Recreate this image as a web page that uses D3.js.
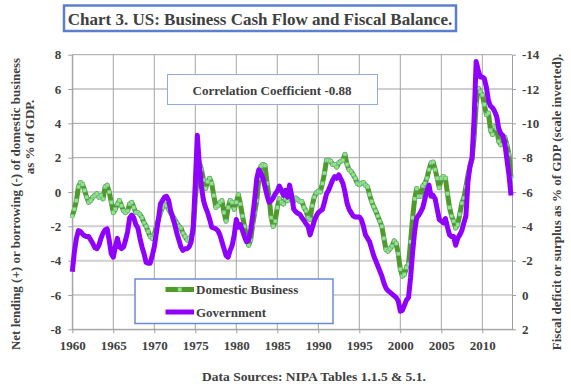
<!DOCTYPE html>
<html>
<head>
<meta charset="utf-8">
<script src="https://cdn.jsdelivr.net/npm/d3@7"></script>
<style>
  body { margin: 0; background: #fff; }
  svg text { font-family: "Liberation Serif" !important; font-weight: bold; fill: #404040; }
</style>
</head>
<body>
<svg id="chart" width="571" height="388"></svg>
<script>
// quarterly series, 1960Q1 .. 2013Q3
const startYear = 1960;

// net lending (+) / borrowing (-) of domestic business, % of GDP (left axis)
const business = [
  -1.4, -1.0, -0.5, 0.3,    0.55, 0.45, 0.1, -0.3,    -0.6, -0.5, -0.3, -0.2,   -0.1, -0.3, -0.2, -0.4,
  0.3, 0.4, 0.0, -0.6,      -1.2, -1.0, -0.7, -0.5,   -0.8, -1.1, -1.2, -1.1,   -0.7, -0.6, -0.9, -1.2,
  -1.2, -1.3, -1.5, -1.8,   -2.0, -2.3, -2.6, -2.7,   -2.5, -2.0, -1.6, -1.2,   -0.9, -0.7, -0.8, -1.0,
  -1.2, -1.4, -1.6, -1.8,   -2.0, -2.1, -2.4, -2.6,   -2.8, -2.7, -2.6, -2.3,   -0.4, 0.9, 1.7, 1.3,
  0.7, 0.2, 0.6, 0.8,       0.5, -0.2, -0.9, -0.8,    -0.6, -0.5, -1.2, -1.7,   -0.9, -0.5, -0.6, -1.0,
  -0.6, -0.15, -0.7, -1.4,  -2.0, -2.6, -3.1, -2.8,   -1.9, -1.2, -0.5, 0.8,    1.5, 1.6, 1.55, 0.5,
  -0.3, -1.5, -2.0, -1.7,   -0.9, -0.4, -0.6, -0.7,   -0.4, -0.5, 0.0, -0.3,    -0.55, -0.35, -0.45, -0.55,
  -0.55, -0.9, -1.1, -1.5,  -1.6, -0.8, -0.3, -0.05,  0.05, 0.0, 0.5, 1.1,      1.85, 1.85, 1.8, 1.6,
  1.6, 1.45, 1.7, 1.8,      1.85, 2.2, 1.6, 1.3,      1.2, 1.0, 0.8, 0.5,       0.42, 0.5, 0.55, 0.4,
  0.3, -0.15, -0.55, -0.85, -1.1, -1.4, -1.7, -2.0,   -2.7, -3.35, -3.45, -3.3, -3.15, -2.85, -3.0, -3.6,
  -4.5, -4.9, -4.8, -4.4,   -4.2, -2.9, -1.5, -0.4,   0.2, -0.25, -0.25, 0.35,  0.5, 0.8, 1.3, 1.7,
  1.75, 1.3, 0.8, 0.25,     0.8, 0.9, 0.8, -0.1,      -0.9, -1.4, -1.7, -2.1,   -1.9, -1.3, -0.65, -0.35,
  0.3, 1.0, 1.5, 1.9,       3.2, 5.1, 6.05, 5.85,     5.65, 5.1, 4.5, 4.6,      3.6, 3.35, 3.8, 3.7,
  2.95, 2.75, 3.2, 3.2,     2.75, 2.2, 0.8
];

// government deficit (-) or surplus (+), % of GDP (right axis, inverted)
const government = [
  -1.35, -2.5, -3.3, -3.75, -3.7, -3.55, -3.45, -3.4, -3.4, -3.2, -3.0, -2.75,  -2.7, -2.9, -3.3, -3.6,
  -3.8, -3.85, -3.2, -2.4,  -2.2, -2.8, -3.3, -2.8,   -2.7, -2.8, -3.2, -3.7,   -4.5, -4.65, -4.5, -4.1,
  -3.9, -3.3, -2.8, -2.4,   -1.9, -1.85, -1.85, -2.3, -2.8, -3.6, -4.4, -5.3,   -5.5, -5.7, -5.75, -5.5,
  -4.9, -4.5, -4.1, -3.6,   -3.2, -2.8, -2.6, -2.7,   -2.7, -2.8, -3.1, -4.0,   -6.5, -9.3, -7.5, -6.3,
  -5.5, -5.1, -4.8, -4.4,   -3.95, -3.9, -3.85, -3.75, -3.5, -3.1, -2.7, -2.3,  -2.2, -2.6, -2.9, -3.5,
  -4.4, -3.95, -4.1, -3.75, -3.4, -3.1, -3.2, -3.75,  -4.6, -5.6, -6.8, -7.3,   -7.1, -6.8, -6.3, -5.8,
  -5.4, -5.5, -5.65, -5.9,  -6.05, -6.35, -6.1, -5.8, -6.1, -5.7, -6.4, -5.8,   -5.0, -4.85, -4.75, -4.7,
  -4.5, -4.35, -4.15, -4.0, -3.5, -3.9, -4.3, -4.6,   -4.8, -4.9, -4.98, -5.4,  -5.9, -6.1, -6.4, -6.7,
  -6.9, -6.8, -7.0, -6.75,  -6.5, -6.0, -5.35, -5.0,  -4.8, -4.6, -4.55, -4.55, -4.55, -4.4, -4.0, -3.5,
  -3.3, -3.1, -2.7, -2.3,   -2.0, -1.7, -1.4, -1.1,   -0.7, -0.4, -0.25, -0.15, -0.05, 0.05, 0.15, 0.35,
  0.95, 0.9, 0.6, 0.3,      0.15, -1.0, -2.5, -3.7,   -4.5, -4.65, -4.85, -5.1, -5.6, -6.1, -6.4, -5.75,
  -5.8, -5.6, -5.0, -4.4,   -4.3, -4.2, -4.45, -3.95, -3.5, -3.4, -3.4, -2.9,   -3.3, -3.5, -3.75, -4.2,
  -4.6, -6.6, -7.5, -8.0,   -10.3, -13.6, -13.1, -12.7, -12.7, -12.6, -12.1, -11.3, -11.0, -10.9, -10.7, -10.4,
  -9.7, -9.4, -9.3, -8.8,   -7.9, -7.0, -5.8
];

const yearTicks = [1960, 1965, 1970, 1975, 1980, 1985, 1990, 1995, 2000, 2005, 2010];
const leftTicks = [8, 6, 4, 2, 0, -2, -4, -6, -8];
const rightTicks = [-14, -12, -10, -8, -6, -4, -2, 0, 2];
const seriesNames = ['Domestic Business', 'Government'];

const FONT = '"Liberation Serif", serif';
const svg = d3.select('#chart');

const plot = { left: 72.3, right: 512, top: 54.7, bottom: 329.3 };

const x = d3.scaleLinear().domain([1960, 2013.62]).range([plot.left, plot.right]);
const yLeft = d3.scaleLinear().domain([-8, 8]).range([plot.bottom, plot.top]);
const yRight = d3.scaleLinear().domain([2, -14]).range([plot.bottom, plot.top]);

const quarter = i => startYear + i / 4;

// grid
const grid = svg.append('g');
grid.selectAll('.hgrid')
  .data(leftTicks)
  .join('line')
  .attr('x1', plot.left).attr('x2', plot.right)
  .attr('y1', d => yLeft(d)).attr('y2', d => yLeft(d))
  .attr('stroke', d => [6, -2, -4].includes(d) ? '#cfcfcf' : '#a6a6a6')
  .attr('stroke-width', d => [6, -2, -4].includes(d) ? 2 : 1);
grid.selectAll('.vgrid')
  .data(yearTicks)
  .join('line')
  .attr('x1', d => x(d)).attr('x2', d => x(d))
  .attr('y1', plot.top).attr('y2', plot.bottom)
  .attr('stroke', '#a6a6a6');

// axes
function styleAxis(g) {
  g.attr('font-family', FONT).attr('font-size', 13);
  g.select('.domain').attr('stroke', '#a0a0a0');
  g.selectAll('.tick line').attr('stroke', '#a0a0a0');
  g.selectAll('.tick text')
    .attr('fill', '#404040')
    .style('font-family', FONT)
    .style('font-size', '13px');
}

svg.append('g')
  .attr('transform', `translate(${plot.left},0)`)
  .call(d3.axisLeft(yLeft).tickValues(leftTicks).tickFormat(d => d).tickSize(4).tickSizeOuter(0).tickPadding(7))
  .call(styleAxis);

svg.append('g')
  .attr('transform', `translate(${plot.right},0)`)
  .call(d3.axisRight(yRight).tickValues(rightTicks).tickFormat(d => d).tickSize(4).tickSizeOuter(0).tickPadding(6))
  .call(styleAxis);

svg.append('g')
  .attr('transform', `translate(0,${plot.bottom})`)
  .call(d3.axisBottom(x).tickValues(yearTicks).tickFormat(d3.format('d')).tickSize(4).tickSizeOuter(0).tickPadding(7))
  .call(styleAxis);

// series
const busLine = d3.line()
  .x((d, i) => x(quarter(i)))
  .y(d => yLeft(d));

const govLine = d3.line()
  .x((d, i) => x(quarter(i)))
  .y(d => yRight(d));

svg.append('path')
  .datum(business)
  .attr('d', busLine)
  .attr('fill', 'none')
  .attr('stroke', '#4f9a2a')
  .attr('stroke-width', 5)
  .attr('stroke-linejoin', 'round');

svg.append('g')
  .selectAll('rect')
  .data(business)
  .join('rect')
  .attr('x', (d, i) => x(quarter(i)) - 1.8)
  .attr('y', d => yLeft(d) - 1.8)
  .attr('width', 3.6)
  .attr('height', 3.6)
  .attr('fill', '#8cf064')
  .attr('stroke', '#7aa8c8')
  .attr('stroke-width', 0.5);

svg.append('path')
  .datum(government)
  .attr('d', govLine)
  .attr('fill', 'none')
  .attr('stroke', '#9000ff')
  .attr('stroke-width', 5)
  .attr('stroke-linejoin', 'round');

// title
svg.append('rect')
  .attr('x', 64).attr('y', 5.5)
  .attr('width', 392).attr('height', 25.5)
  .attr('fill', '#fff')
  .attr('stroke', '#5b7fcf')
  .attr('stroke-width', 2.5);
svg.append('text')
  .attr('x', 260).attr('y', 24.5)
  .attr('text-anchor', 'middle')
  .style('font-family', FONT)
  .style('font-size', '17px')
  .text('Chart 3. US: Business Cash Flow and Fiscal Balance.');

// correlation box
svg.append('rect')
  .attr('x', 167.5).attr('y', 74.5)
  .attr('width', 210).attr('height', 30)
  .attr('fill', '#fff')
  .attr('stroke', '#94abe0')
  .attr('stroke-width', 1);
svg.append('text')
  .attr('x', 272).attr('y', 95)
  .attr('text-anchor', 'middle')
  .style('font-family', FONT)
  .style('font-size', '13px')
  .text('Correlation Coefficient -0.88');

// legend
const legend = svg.append('g');
legend.append('rect')
  .attr('x', 135).attr('y', 279)
  .attr('width', 198).attr('height', 44.5)
  .attr('fill', '#fff')
  .attr('stroke', '#6a8ad6')
  .attr('stroke-width', 1.5);
const legendY = [289.5, 312];
legend.append('line')
  .attr('x1', 165.5).attr('x2', 194).attr('y1', legendY[0]).attr('y2', legendY[0])
  .attr('stroke', '#4f9a2a').attr('stroke-width', 5);
legend.append('rect')
  .attr('x', 178).attr('y', legendY[0] - 1.8)
  .attr('width', 3.6).attr('height', 3.6)
  .attr('fill', '#8cf064').attr('stroke', '#7aa8c8').attr('stroke-width', 0.5);
legend.append('line')
  .attr('x1', 165.5).attr('x2', 194).attr('y1', legendY[1]).attr('y2', legendY[1])
  .attr('stroke', '#9000ff').attr('stroke-width', 5);
legend.selectAll('.ltext')
  .data(seriesNames)
  .join('text')
  .attr('x', 196)
  .attr('y', (d, i) => legendY[i] + 4.5)
  .style('font-family', FONT)
  .style('font-size', '13px')
  .text(d => d);

// axis titles
svg.append('text')
  .attr('transform', 'translate(20,204) rotate(-90)')
  .attr('text-anchor', 'middle')
  .style('font-family', FONT)
  .style('font-size', '13px')
  .text('Net lending (+) or borrowing (-) of domestic business');
svg.append('text')
  .attr('transform', 'translate(34,137) rotate(-90)')
  .attr('text-anchor', 'middle')
  .style('font-family', FONT)
  .style('font-size', '13px')
  .text('as % of GDP.');
svg.append('text')
  .attr('transform', 'translate(561,202) rotate(-90)')
  .attr('text-anchor', 'middle')
  .style('font-family', FONT)
  .style('font-size', '13px')
  .text('Fiscal deficit or surplus as % of GDP (scale inverted).');

// source
svg.append('text')
  .attr('x', 314).attr('y', 381)
  .attr('text-anchor', 'middle')
  .style('font-family', FONT)
  .style('font-size', '13.5px')
  .text('Data Sources: NIPA Tables 1.1.5 & 5.1.');
</script>
</body>
</html>
